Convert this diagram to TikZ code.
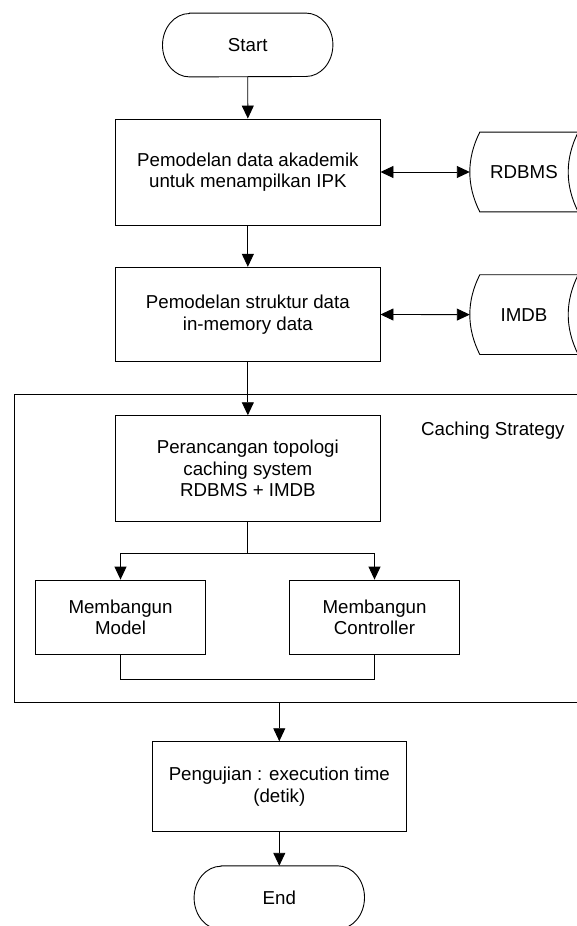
\documentclass[tikz,border=0pt]{standalone}
\usepackage{fontspec}
\setmainfont{Liberation Sans}
\usetikzlibrary{arrows.meta}
\begin{document}
\begin{tikzpicture}[x=1pt,y=-1pt,
  every node/.style={font=\fontsize{18.7}{21.5}\selectfont, align=center, inner sep=0pt},
  proc/.style={draw, line width=0.9pt, rectangle, minimum width=264.3pt},
  term/.style={minimum width=170pt, minimum height=63.4pt},
  store/.style={minimum width=108pt, minimum height=79.4pt},
  link/.style={line width=0.9pt},
  arr/.style={link, -{Triangle[length=13pt,width=12pt]}},
  darr/.style={link, {Triangle[length=13pt,width=12pt]}-{Triangle[length=13pt,width=12pt]}},
]
\useasboundingbox (0,0) rectangle (576,926);

% container
\node[draw, line width=0.9pt, minimum width=575.3pt, minimum height=308pt] (cont) at (302.35,548.3) {};
\node[anchor=base] (cs) at (492.9,435.7) {Caching Strategy};

% terminators
\node[term] (start) at (247.7,45) {Start};
\draw[link] ([xshift=27pt]start.north west) -- ([xshift=-27pt]start.north east)
  arc[start angle=90,end angle=-90,x radius=27pt,y radius=31.7pt]
  -- ([xshift=27pt]start.south west)
  arc[start angle=270,end angle=90,x radius=27pt,y radius=31.7pt] -- cycle;

\node[term] (stop) at (279.3,897.7) {End};
\draw[link] ([xshift=27pt]stop.north west) -- ([xshift=-27pt]stop.north east)
  arc[start angle=90,end angle=-90,x radius=27pt,y radius=31.7pt]
  -- ([xshift=27pt]stop.south west)
  arc[start angle=270,end angle=90,x radius=27pt,y radius=31.7pt] -- cycle;

% process boxes
\node[proc, minimum height=106pt] (box1) at (247.85,172) {Pemodelan data akademik\\untuk menampilkan IPK};
\node[proc, minimum height=94.4pt] (box2) at (247.85,314.5) {Pemodelan struktur data\\in-memory data};
\node[proc, minimum height=106pt] (box3) at (247.85,468.7) {Perancangan topologi\\caching system\\RDBMS + IMDB};
\node[proc, minimum width=169.8pt, minimum height=74.3pt] (model) at (120.5,617.2) {Membangun\\Model};
\node[proc, minimum width=169.3pt, minimum height=74.3pt] (ctrl) at (374.5,617.2) {Membangun\\Controller};
\node[proc, minimum width=254pt, minimum height=90pt] (peng) at (279.3,786.7) {Pengujian : execution time\\(detik)};

% stored data
\node[store] (rdbms) at (524,172) {RDBMS};
\draw[link] ([xshift=10pt]rdbms.north west) -- (rdbms.north east)
  .. controls +(-13.33pt,-26.5pt) and +(-13.33pt,26.5pt) .. (rdbms.south east)
  -- ([xshift=10pt]rdbms.south west)
  .. controls +(-13.33pt,26.5pt) and +(-13.33pt,-26.5pt) .. ([xshift=10pt]rdbms.north west) -- cycle;
\node[store] (imdb) at (524,314.6) {IMDB};
\draw[link] ([xshift=10pt]imdb.north west) -- (imdb.north east)
  .. controls +(-13.33pt,-26.5pt) and +(-13.33pt,26.5pt) .. (imdb.south east)
  -- ([xshift=10pt]imdb.south west)
  .. controls +(-13.33pt,26.5pt) and +(-13.33pt,-26.5pt) .. ([xshift=10pt]imdb.north west) -- cycle;

% connectors
\draw[arr] (start.south) -- (box1.north);
\draw[arr] (box1.south) -- (box2.north);
\draw[arr] (box2.south) -- (box3.north);
\draw[darr] (box1.east) -- (rdbms.west);
\draw[darr] (box2.east) -- (imdb.west);
\coordinate (split) at (247.85,553.3);
\coordinate (merge) at (247.85,679);
\draw[link] (box3.south) -- (split);
\draw[arr] (split) -| (model.north);
\draw[arr] (split) -| (ctrl.north);
\draw[link] (model.south) -- (model.south |- merge) -- (ctrl.south |- merge) -- (ctrl.south);
\draw[arr] (cont.south -| peng.north) -- (peng.north);
\draw[arr] (peng.south) -- (stop.north);
\end{tikzpicture}
\end{document}
